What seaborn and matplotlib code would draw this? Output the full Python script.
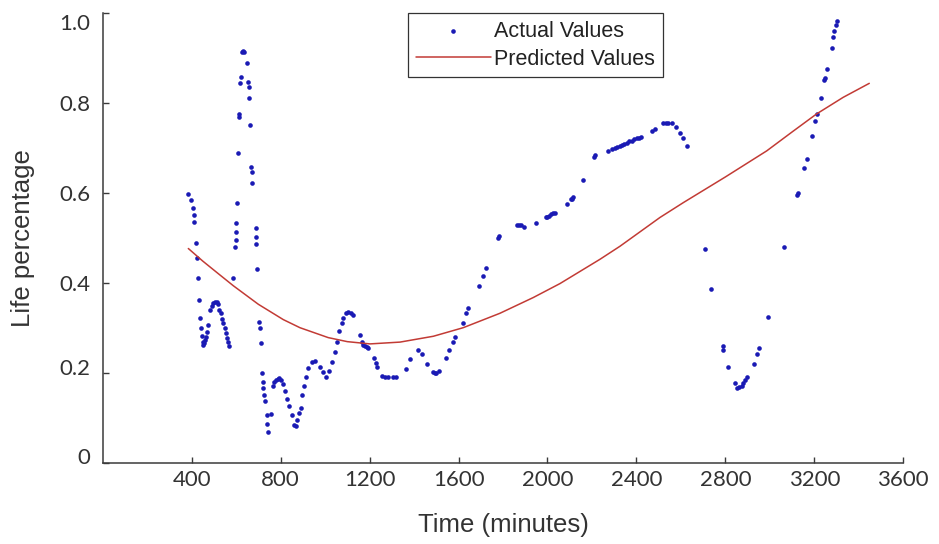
import numpy as np
import pandas as pd
import matplotlib
matplotlib.use("Agg")
import matplotlib.pyplot as plt
import matplotlib.transforms as mtransforms
import seaborn as sns

# ---- data ----
actual_time = [
    385, 396, 405, 409, 412, 420, 423, 430, 433, 437,
    441, 446, 450, 453, 457, 461, 465, 470, 475,
    483, 490, 498, 506, 513, 520, 525, 531, 537, 543, 548, 554, 560, 565, 570,
    587, 597, 598, 599, 600, 602, 610, 614, 615, 619, 620, 628, 632, 637, 647,
    654, 656, 658, 662, 669, 670, 673, 688, 689, 690, 695, 704, 706, 712,
    715, 719, 722, 726, 730, 737, 738, 745, 755, 764, 772, 779, 787, 794, 802,
    809, 820, 830, 839, 850, 860, 869, 875, 882, 890, 896, 903, 915, 925, 940,
    955, 977, 992, 1004, 1019, 1030, 1045, 1055, 1064, 1075, 1082, 1094, 1104,
    1115, 1127, 1157, 1165, 1172, 1180, 1187, 1193, 1220, 1229, 1235, 1255, 1269,
    1284, 1304, 1319, 1364, 1382, 1419, 1434, 1460, 1484, 1492, 1499, 1514, 1544,
    1558, 1574, 1584, 1619, 1634, 1644, 1693, 1709, 1723, 1779, 1782, 1864, 1872,
    1880, 1894, 1948, 1993, 2000, 2008, 2016, 2023, 2034, 2089, 2105, 2109, 2113,
    2158, 2207, 2212, 2273, 2290, 2304, 2314, 2324, 2334, 2345, 2356, 2367, 2378,
    2390, 2401, 2410, 2419, 2469, 2483, 2521, 2532, 2543, 2558, 2578, 2596, 2611,
    2626, 2708, 2734, 2788, 2790, 2813, 2843, 2853, 2863, 2873, 2880, 2888, 2898,
    2929, 2944, 2953, 2993, 3063, 3123, 3128, 3153, 3166, 3188, 3203, 3213, 3228,
    3243, 3248, 3258, 3278, 3285, 3290, 3296, 3300,
]
actual_life = [
    0.597, 0.584, 0.565, 0.550, 0.536, 0.488, 0.456, 0.410, 0.362, 0.321,
    0.300, 0.282, 0.268, 0.262, 0.266, 0.272, 0.280, 0.290, 0.305,
    0.339, 0.348, 0.354, 0.357, 0.358, 0.352, 0.340, 0.332, 0.320, 0.310, 0.300, 0.288, 0.278, 0.268, 0.260,
    0.410, 0.480, 0.495, 0.513, 0.533, 0.578, 0.689, 0.769, 0.776, 0.844, 0.858, 0.912, 0.915, 0.912, 0.888,
    0.847, 0.835, 0.810, 0.750, 0.658, 0.647, 0.621, 0.521, 0.502, 0.486, 0.430, 0.313, 0.299, 0.265,
    0.200, 0.180, 0.165, 0.150, 0.138, 0.107, 0.086, 0.069, 0.109, 0.171, 0.180, 0.184, 0.187, 0.188, 0.183,
    0.176, 0.159, 0.142, 0.126, 0.107, 0.084, 0.082, 0.095, 0.110, 0.121, 0.150, 0.170, 0.190, 0.211, 0.224,
    0.226, 0.213, 0.202, 0.191, 0.204, 0.224, 0.247, 0.269, 0.293, 0.310, 0.321, 0.332, 0.336,
    0.333, 0.328, 0.284, 0.268, 0.262, 0.260, 0.258, 0.254, 0.232, 0.221, 0.212, 0.193, 0.190,
    0.190, 0.190, 0.191, 0.208, 0.230, 0.250, 0.242, 0.219, 0.202, 0.200, 0.199, 0.204, 0.232,
    0.250, 0.269, 0.279, 0.311, 0.332, 0.343, 0.393, 0.415, 0.432, 0.499, 0.503, 0.528, 0.529,
    0.528, 0.524, 0.533, 0.545, 0.547, 0.549, 0.552, 0.554, 0.556, 0.574, 0.585, 0.587, 0.590,
    0.628, 0.680, 0.684, 0.693, 0.697, 0.699, 0.701, 0.704, 0.706, 0.709, 0.711, 0.714, 0.716,
    0.719, 0.721, 0.722, 0.723, 0.737, 0.741, 0.754, 0.756, 0.756, 0.754, 0.747, 0.732, 0.721,
    0.704, 0.476, 0.385, 0.259, 0.250, 0.212, 0.178, 0.165, 0.168, 0.171, 0.178, 0.184, 0.190,
    0.219, 0.242, 0.256, 0.324, 0.480, 0.595, 0.599, 0.654, 0.674, 0.726, 0.760, 0.776, 0.810,
    0.850, 0.854, 0.876, 0.921, 0.947, 0.960, 0.973, 0.982,
]
pred_time = [385, 450, 520, 588, 700, 812, 887, 1014, 1100, 1202, 1337, 1487, 1621,
             1786, 1936, 2056, 2116, 2236, 2326, 2506, 2611, 2800, 2986, 3100, 3210,
             3330, 3447]
pred_life = [0.476, 0.448, 0.420, 0.393, 0.352, 0.318, 0.300, 0.278, 0.269, 0.264,
             0.268, 0.281, 0.300, 0.332, 0.367, 0.398, 0.416, 0.452, 0.481, 0.545,
             0.578, 0.635, 0.693, 0.735, 0.775, 0.812, 0.843]

x_ticks = [400, 800, 1200, 1600, 2000, 2400, 2800, 3200, 3600]
y_ticks = [0, 0.2, 0.4, 0.6, 0.8, 1.0]
y_tick_labels = ["0", "0.2", "0.4", "0.6", "0.8", "1.0"]

actual_df = pd.DataFrame({"time": actual_time, "life": actual_life})
pred_df = pd.DataFrame({"time": pred_time, "life": pred_life})

sns.set_theme(style="ticks")
plt.rcParams["font.family"] = ["Liberation Sans", "DejaVu Sans"]

W, H = 939, 544
fig = plt.figure(figsize=(W / 100, H / 100), dpi=100)
ax = fig.add_axes([102.7 / W, 1 - 462.7 / H, 800.6 / W, 450 / H])

sns.scatterplot(data=actual_df, x="time", y="life", ax=ax, color="#1a1ab4",
                s=11, linewidth=0, label="Actual Values")
sns.lineplot(data=pred_df, x="time", y="life", ax=ax, color="#c23b35",
             linewidth=1.1, label="Predicted Values")

ax.set_xlim(0, 3600)
ax.set_ylim(0, 1.0)
ax.set_xticks(x_ticks)
ax.set_xticklabels([str(t) for t in x_ticks])
ax.set_yticks(y_ticks)
ax.set_yticklabels(y_tick_labels)

for side in ["top", "right"]:
    ax.spines[side].set_visible(False)
for side in ["left", "bottom"]:
    ax.spines[side].set_color("#3a3a3a")
    ax.spines[side].set_linewidth(1.1)

ax.tick_params(axis="both", direction="in", length=4.5, width=1.0,
               color="#3a3a3a", labelcolor="#333333")
ax.tick_params(axis="y", pad=9)
ax.tick_params(axis="x", pad=5)
for lab in ax.get_xticklabels() + ax.get_yticklabels():
    lab.set_fontfamily(["Lato", "DejaVu Sans"])
    lab.set_fontsize(16)

# individual vertical shifts of y tick labels as in the reference
shifts = {"1.0": -7.0, "0.2": 4.0, "0": 4.5}
for lab in ax.get_yticklabels():
    dy = shifts.get(lab.get_text(), 0.0)
    if dy:
        off = mtransforms.ScaledTranslation(0, dy / 72, fig.dpi_scale_trans)
        lab.set_transform(lab.get_transform() + off)

ax.set_xlabel("Time (minutes)", fontsize=18.5, color="#333333")
ax.set_ylabel("Life percentage", fontsize=18.5, color="#333333")
ax.xaxis.set_label_coords(0.5, -0.112)
ax.yaxis.set_label_coords(-0.0846, 0.5)

leg = ax.legend(loc="upper left", bbox_to_anchor=(408 / W, 1 - 13 / H),
                bbox_transform=fig.transFigure, borderaxespad=0,
                fancybox=False, framealpha=1, edgecolor="#333333",
                fontsize=15.5, handlelength=3.5, handletextpad=0.15,
                borderpad=0.36, labelspacing=0.32, scatterpoints=1)
leg.get_frame().set_linewidth(0.9)
for t in leg.get_texts():
    t.set_color("#222222")

fig.savefig("out.png", dpi=100, facecolor="white")
